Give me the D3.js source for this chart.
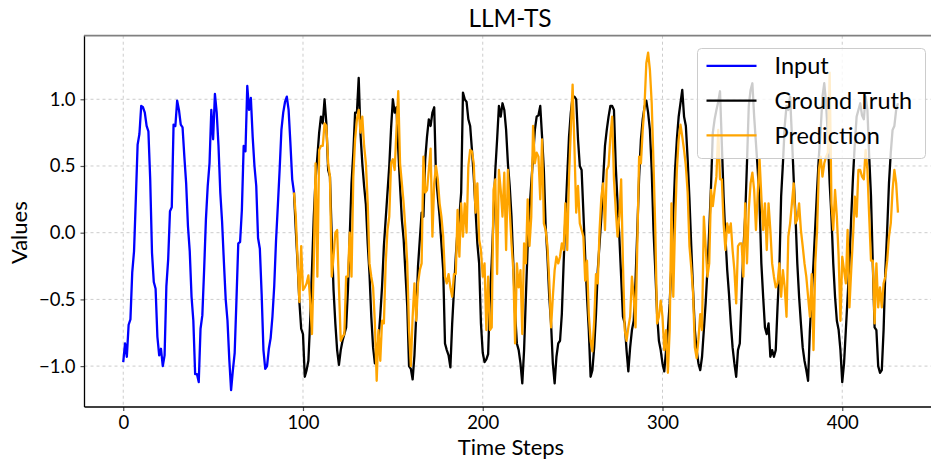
<!DOCTYPE html>
<html>
<head>
<meta charset="utf-8">
<script src="https://cdn.jsdelivr.net/npm/d3@7"></script>
<style>
  body { margin: 0; background: #fff; }
  text { font-family: Lato, "Open Sans", sans-serif; fill: #000; }
</style>
</head>
<body>
<div id="chart"></div>
<script>
  'use strict';

  //Chart values
  let inputStart = 0;
  let outputStart = 95; //truth and prediction start where input ends

  let inputValues = [
    -0.97, -0.83, -0.93, -0.69, -0.65, -0.30, -0.14, 0.25, 0.66, 0.74,
    0.95, 0.94, 0.90, 0.80, 0.76, 0.40, -0.15, -0.37, -0.42, -0.78,
    -0.92, -0.87, -1.00, -0.92, -0.40, -0.20, 0.16, 0.19, 0.81, 0.80,
    0.99, 0.92, 0.81, 0.79, 0.57, 0.37, 0.05, -0.14, -0.48, -0.66,
    -1.06, -1.06, -1.12, -0.72, -0.62, -0.28, 0.10, 0.35, 0.52, 0.92,
    0.70, 1.04, 0.90, 0.65, 0.30, 0.08, -0.22, -0.50, -0.66, -0.95,
    -1.18, -1.03, -0.90, -0.50, -0.08, -0.07, 0.17, 0.65, 0.61, 1.10,
    0.92, 1.01, 0.72, 0.50, 0.35, -0.04, -0.12, -0.46, -0.88, -1.02,
    -1.00, -0.87, -0.79, -0.63, -0.40, -0.06, 0.20, 0.47, 0.77, 0.90,
    0.98, 1.02, 0.92, 0.67, 0.40, 0.30
  ];

  let truthValues = [
    0.30, 0.02, -0.23, -0.52, -0.72, -0.76, -1.08, -1.03, -0.96, -0.66,
    -0.28, 0.12, 0.40, 0.57, 0.75, 0.87, 0.82, 1.00, 0.82, 0.47,
    0.42, -0.03, -0.43, -0.68, -0.88, -0.99, -0.88, -0.81, -0.76, -0.71,
    -0.43, -0.03, 0.37, 0.60, 0.90, 0.90, 1.16, 0.74, 0.52, 0.35,
    0.21, -0.08, -0.31, -0.63, -0.86, -0.98, -0.88, -0.80, -0.62, -0.40,
    -0.10, 0.10, 0.30, 0.50, 0.78, 1.00, 0.90, 0.94, 0.62, 0.35,
    0.10, -0.05, -0.30, -0.55, -1.00, -1.02, -1.10, -0.92, -0.62, -0.25,
    -0.05, 0.15, 0.12, 0.55, 0.72, 0.85, 0.80, 0.90, 0.94, 0.42,
    0.27, 0.12, -0.08, -0.28, -0.83, -0.88, -0.92, -1.01, -0.68, -0.43,
    -0.18, 0.02, 0.12, 0.30, 1.05, 1.00, 0.98, 0.85, 0.80, 0.62,
    0.42, 0.17, -0.08, -0.23, -0.68, -0.90, -0.97, -0.95, -0.91, -0.48,
    -0.22, 0.12, 0.47, 0.70, 0.95, 0.87, 0.97, 0.92, 0.77, 0.52,
    0.35, 0.12, -0.23, -0.60, -0.83, -0.88, -0.98, -1.13, -0.88, -0.48,
    -0.10, 0.17, 0.37, 0.57, 0.77, 0.87, 0.88, 0.95, 0.72, 0.47,
    0.05, -0.18, -0.48, -0.68, -0.98, -1.13, -0.93, -0.83, -0.81, -0.61,
    -0.23, 0.12, 0.42, 0.72, 0.90, 1.02, 1.02, 1.00, 0.70, 0.50,
    0.47, 0.15, -0.18, -0.48, -0.73, -1.08, -1.03, -0.86, -0.61, -0.28,
    -0.08, 0.12, 0.40, 0.65, 0.77, 0.87, 0.95, 0.95, 0.92, 0.50,
    0.22, -0.03, -0.33, -0.63, -0.68, -0.88, -1.04, -0.86, -0.73, -0.66,
    -0.36, 0.02, 0.42, 0.70, 0.85, 0.94, 0.99, 0.90, 0.77, 0.47,
    0.02, -0.28, -0.61, -0.81, -0.88, -0.98, -1.04, -0.88, -0.73, -0.53,
    -0.23, 0.12, 0.47, 0.70, 0.87, 0.97, 1.07, 0.87, 0.80, 0.55,
    0.25, -0.10, -0.43, -0.73, -0.88, -0.98, -1.03, -0.93, -0.73, -0.53,
    -0.28, 0.02, 0.35, 0.75, 0.85, 0.92, 0.98, 1.06, 0.67, 0.27,
    -0.03, -0.28, -0.46, -0.68, -0.86, -0.98, -1.08, -0.88, -0.83, -0.48,
    -0.13, 0.12, 0.52, 0.95, 1.07, 1.12, 0.87, 0.67, 0.47, 0.22,
    -0.23, -0.48, -0.71, -0.76, -0.68, -0.93, -0.88, -0.93, -0.88, -0.56,
    -0.28, 0.27, 0.52, 0.80, 0.95, 0.92, 1.02, 0.72, 0.40, 0.12,
    -0.23, -0.48, -0.68, -0.86, -0.96, -1.03, -1.11, -0.73, -0.48, -0.23,
    0.05, 0.32, 0.57, 0.77, 1.02, 1.12, 0.97, 0.72, 0.37, 0.12,
    -0.23, -0.48, -0.66, -0.73, -0.88, -1.12, -0.98, -0.73, -0.48, -0.23,
    0.12, 0.42, 0.67, 0.87, 0.92, 0.97, 0.88, 0.85, 1.02, 0.92,
    0.57, 0.27, -0.23, -0.71, -0.73, -1.00, -1.05, -1.03, -0.73, -0.28,
    0.02, 0.37, 0.60, 0.77, 0.80, 0.92, 0.97
  ];

  let predValues = [
    0.30, 0.12, -0.21, -0.52, -0.10, -0.43, -0.41, -0.38, -0.32, -0.51,
    -0.76, -0.23, 0.52, -0.33, 0.62, 0.65, 0.65, 0.82, 0.80, 0.52,
    0.42, -0.33, -0.18, 0.00, 0.02, -0.41, -0.81, -0.78, -0.76, -0.33,
    -0.33, 0.00, -0.33, 0.42, 0.70, 0.85, 0.92, 0.75, 0.87, 0.65,
    0.52, 0.22, -0.23, -0.33, -0.41, -0.68, -1.11, -0.73, -0.96, -0.66,
    -0.68, -0.23, 0.02, 0.12, 0.52, 0.55, 0.47, 0.77, 1.06, 0.52,
    0.37, 0.22, 0.02, -0.23, -0.73, -1.00, -0.63, -0.38, -0.66, -0.38,
    -0.28, -0.23, 0.57, 0.30, 0.32, 0.47, 0.63, -0.03, 0.37, 0.50,
    0.40, 0.22, 0.12, -0.03, -0.33, -0.38, -0.31, -0.41, -0.48, -0.31,
    -0.31, 0.17, -0.18, 0.22, -0.03, 0.22, 0.00, 0.50, 0.62, 0.61,
    0.52, 0.15, 0.37, -0.05, -0.13, -0.33, -0.23, -0.73, -0.33, -0.73,
    -0.71, 0.32, 0.40, -0.31, 0.47, 0.32, 0.12, 0.45, -0.13, 0.47,
    0.17, -0.08, -0.28, -0.83, -0.23, -0.41, -0.28, -0.76, -0.08, -0.23,
    0.25, -0.10, 0.12, 0.80, 0.52, 0.60, 0.57, 0.25, 0.70, 0.07,
    0.02, -0.10, -0.36, -0.71, -0.48, -0.28, -0.18, -0.23, -0.18, -0.08,
    -0.13, 0.22, -0.13, 0.42, 0.77, 1.11, 0.65, 0.15, 0.35, 0.07,
    0.02, -0.03, -0.36, -0.21, -0.61, -0.81, -0.89, -0.66, -0.31, -0.38,
    0.02, 0.27, 0.37, 0.02, 0.47, 0.50, 0.72, 0.87, 0.40, 0.17,
    -0.03, 0.12, 0.40, -0.23, -0.73, -0.81, -0.71, -0.63, -0.33, -0.48,
    -0.71, -0.08, 0.57, 0.52, 0.77, 0.95, 1.27, 1.35, 1.22, 0.97,
    0.52, 0.02, -0.68, -0.63, -0.51, -0.63, -0.88, -0.73, -1.05, -0.73,
    0.22, -0.48, 0.07, 0.47, 0.70, 0.81, 0.72, 0.62, 0.50, 0.30,
    -0.10, -0.26, -0.45, -0.86, -0.94, -0.80, -0.61, -0.73, 0.12, -0.10,
    -0.33, -0.23, 0.32, 0.20, 0.32, 0.42, 0.77, 0.40, 0.40, 0.07,
    -0.13, 0.07, 0.00, 0.07, -0.13, -0.28, -0.53, -0.10, -0.08, -0.08,
    -0.33, 0.22, -0.23, 0.17, 0.37, 0.45, 0.32, 0.02, 0.30, 0.55,
    0.27, 0.02, 0.22, -0.13, 0.22, 0.02, -0.23, -0.33, -0.41, -0.38,
    -0.23, -0.48, -0.28, -0.41, -0.63, -0.03, 0.07, 0.22, 0.37, 0.07,
    0.10, 0.22, 0.02, -0.10, -0.23, -0.33, -0.48, -0.63, -0.31, -0.88,
    -0.23, 0.02, 0.47, 0.57, 0.42, 0.52, 0.57, 0.60, 1.20, 0.22,
    0.02, 0.32, 0.12, -0.18, -0.66, -0.18, -0.28, -0.38, 0.02, -0.56,
    -0.28, -0.03, 0.27, 0.12, 0.47, 0.47, 0.42, 0.40, 0.62, 0.47,
    0.12, -0.21, -0.21, -0.68, -0.23, -0.56, -0.41, -0.56, -0.38, -0.33,
    -0.21, -0.03, 0.07, 0.32, 0.47, 0.37, 0.15
  ];

  let xTicks = [0, 100, 200, 300, 400];
  let yTicks = [-1.0, -0.5, 0.0, 0.5, 1.0];

  let seriesNames = ['Input', 'Ground Truth', 'Prediction'];
  let seriesColors = ['#0000ff', '#000000', '#ffa500'];

  //Set dimensions and plot area
  let width = 931;
  let height = 461;
  let plot = {left: 84.5, right: 936.7, top: 35.7, bottom: 407};

  let svg = d3.select('#chart').append('svg')
    .attr('width', width)
    .attr('height', height);

  //Build point lists: [step, value]
  let inputData = inputValues.map(function(v, i) { return [inputStart + i, v]; });
  let truthData = truthValues.map(function(v, i) { return [outputStart + i, v]; });
  let predData = predValues.map(function(v, i) { return [outputStart + i, v]; });

  //Matplotlib style 5% margins around the data
  let allData = inputData.concat(truthData, predData);
  let xExt = d3.extent(allData, function(d) { return d[0]; });
  let yExt = d3.extent(allData, function(d) { return d[1]; });
  let xPad = (xExt[1] - xExt[0]) * 0.05;
  let yPad = (yExt[1] - yExt[0]) * 0.05;

  let x = d3.scaleLinear()
    .domain([xExt[0] - xPad, xExt[1] + xPad])
    .range([plot.left, plot.right]);

  let y = d3.scaleLinear()
    .domain([yExt[0] - yPad, yExt[1] + yPad])
    .range([plot.bottom, plot.top]);

  //Grid lines
  let grid = svg.append('g').attr('class', 'grid');

  grid.selectAll('.vgrid')
    .data(xTicks)
    .enter()
    .append('line')
      .attr('x1', function(d) { return x(d); })
      .attr('x2', function(d) { return x(d); })
      .attr('y1', plot.top)
      .attr('y2', plot.bottom)
      .attr('stroke', '#cccccc')
      .attr('stroke-width', 1)
      .attr('stroke-dasharray', '3,3');

  grid.selectAll('.hgrid')
    .data(yTicks)
    .enter()
    .append('line')
      .attr('x1', plot.left)
      .attr('x2', plot.right)
      .attr('y1', function(d) { return y(d); })
      .attr('y2', function(d) { return y(d); })
      .attr('stroke', '#cccccc')
      .attr('stroke-width', 1)
      .attr('stroke-dasharray', '3,3');

  //Series lines
  let line = d3.line()
    .x(function(d) { return x(d[0]); })
    .y(function(d) { return y(d[1]); });

  [inputData, truthData, predData].forEach(function(data, i) {
    svg.append('path')
      .datum(data)
      .attr('fill', 'none')
      .attr('stroke', seriesColors[i])
      .attr('stroke-width', 2.3)
      .attr('stroke-linejoin', 'round')
      .attr('d', line);
  });

  //Axes
  let xAxis = d3.axisBottom(x)
    .tickValues(xTicks)
    .tickSize(4)
    .tickPadding(5)
    .tickFormat(d3.format('d'));

  let yAxis = d3.axisLeft(y)
    .tickValues(yTicks)
    .tickSize(4)
    .tickPadding(5)
    .tickFormat(function(d) { return d3.format('.1f')(d).replace('-', '\u2212'); });

  let gx = svg.append('g')
    .attr('transform', 'translate(0,' + plot.bottom + ')')
    .call(xAxis);

  let gy = svg.append('g')
    .attr('transform', 'translate(' + plot.left + ',0)')
    .call(yAxis);

  [gx, gy].forEach(function(g) {
    g.select('.domain').remove();
    g.selectAll('.tick line').attr('stroke', '#555').attr('stroke-width', 1.2);
    g.selectAll('.tick text')
      .attr('font-family', 'Lato, sans-serif')
      .attr('font-size', '18.5px')
      .attr('fill', '#000');
  });

  //Spines: left and bottom black, top grey
  svg.append('line')
    .attr('x1', plot.left).attr('x2', plot.left)
    .attr('y1', plot.top).attr('y2', plot.bottom)
    .attr('stroke', '#000').attr('stroke-width', 1.3);

  svg.append('line')
    .attr('x1', plot.left).attr('x2', plot.right)
    .attr('y1', plot.bottom).attr('y2', plot.bottom)
    .attr('stroke', '#000').attr('stroke-width', 1.3);

  svg.append('line')
    .attr('x1', plot.left - 0.6).attr('x2', plot.right)
    .attr('y1', plot.top).attr('y2', plot.top)
    .attr('stroke', '#808080').attr('stroke-width', 1.8);

  //Title and axis labels
  svg.append('text')
    .text('LLM-TS')
    .attr('x', 510)
    .attr('y', 27)
    .attr('text-anchor', 'middle')
    .attr('font-size', '24.5px');

  svg.append('text')
    .text('Time Steps')
    .attr('x', 511)
    .attr('y', 455)
    .attr('text-anchor', 'middle')
    .attr('font-size', '22px');

  svg.append('text')
    .text('Values')
    .attr('transform', 'translate(27,' + y(0) + ') rotate(-90)')
    .attr('text-anchor', 'middle')
    .attr('font-size', '22px');

  //Legend
  let legend = svg.append('g')
    .attr('transform', 'translate(697.5,48.5)');

  legend.append('rect')
    .attr('width', 228)
    .attr('height', 110)
    .attr('rx', 4)
    .attr('fill', '#ffffff')
    .attr('fill-opacity', 0.8)
    .attr('stroke', '#cccccc')
    .attr('stroke-width', 1);

  let item = legend.selectAll('.item')
    .data(seriesNames)
    .enter()
    .append('g')
      .attr('class', 'item')
      .attr('transform', function(d, i) { return 'translate(0,' + (17.3 + i * 34.8) + ')'; });

  item.append('line')
    .attr('x1', 9)
    .attr('x2', 59)
    .attr('stroke', function(d, i) { return seriesColors[i]; })
    .attr('stroke-width', 2.3);

  item.append('text')
    .text(function(d) { return d; })
    .attr('x', 77)
    .attr('dy', '0.35em')
    .attr('font-size', '23.5px');
</script>
</body>
</html>
